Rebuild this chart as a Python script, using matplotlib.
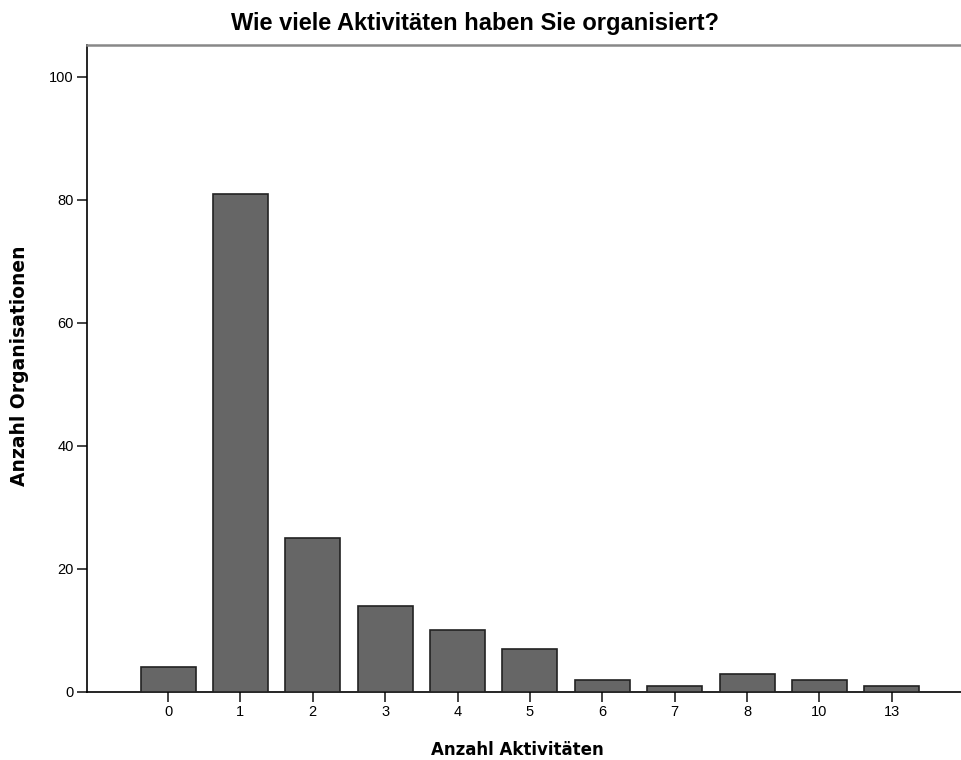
import matplotlib
matplotlib.use('Agg')
import matplotlib.pyplot as plt

# Anzahl Aktivitäten und Häufigkeiten
kategorien = ['0', '1', '2', '3', '4', '5', '6', '7', '8', '10', '13']
anzahl = [4, 81, 25, 14, 10, 7, 2, 1, 3, 2, 1]
y_ticks = [0, 20, 40, 60, 80, 100]

plt.rcParams['font.family'] = ['Liberation Sans', 'DejaVu Sans']

fig = plt.figure(figsize=(9.62, 7.6), dpi=100)
ax = fig.add_axes([0.0904, 0.0895, 0.9096, 0.8513])

pos = list(range(len(kategorien)))
ax.bar(pos, anzahl, width=0.76, color='#666666', edgecolor='#222222', linewidth=1.2, zorder=3)

ax.set_xlim(-1.12, 10.97)
ax.set_ylim(0, 105.2)
ax.set_xticks(pos)
ax.set_xticklabels(kategorien)
ax.set_yticks(y_ticks)
ax.tick_params(axis='both', direction='out', length=7.5, width=1.2, labelsize=10.5, color='#222222', pad=2)

ax.spines['right'].set_visible(False)
ax.spines['top'].set_color('#888888')
ax.spines['left'].set_linewidth(1.2)
ax.spines['bottom'].set_linewidth(1.2)
ax.spines['top'].set_linewidth(1.8)

# Titel und Achsenbeschriftungen
fig.text(475 / 962, 1 - 30 / 760, 'Wie viele Aktivitäten haben Sie organisiert?',
         fontsize=17, fontweight='bold', ha='center', va='baseline')
fig.text(517 / 962, 1 - 755 / 760, 'Anzahl Aktivitäten', family='DejaVu Sans',
         fontsize=12, fontweight='bold', ha='center', va='baseline')
fig.text(20 / 962, 1 - 366 / 760, 'Anzahl Organisationen', family='DejaVu Sans',
         fontsize=13.5, fontweight='bold', ha='center', va='center', rotation=90)

plt.savefig('out.png', dpi=100)
